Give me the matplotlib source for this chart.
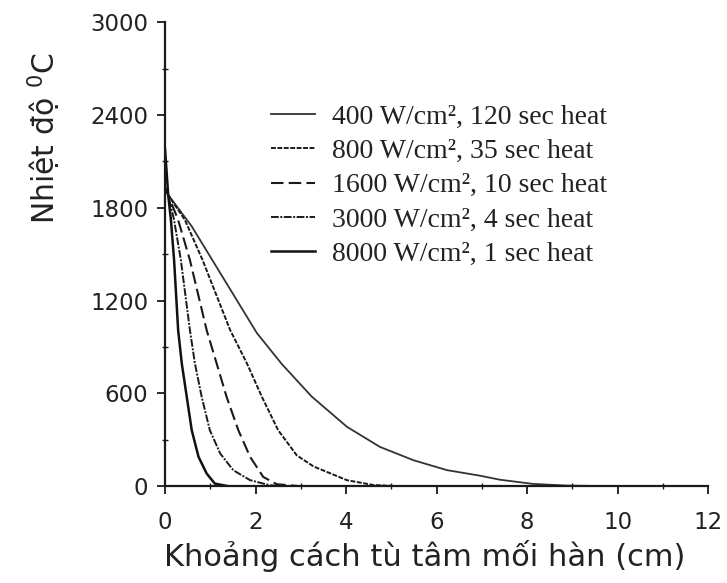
import matplotlib
matplotlib.use('Agg')
import matplotlib.pyplot as plt
from matplotlib.ticker import MultipleLocator

# Temperature profiles (distance in cm, temperature in deg C)
x_400 = [0, 0.07, 0.59, 1.07, 2.03, 2.58, 3.24, 4.02, 4.75, 5.49, 6.23, 6.96, 7.4, 8.13, 8.88, 10.0]
y_400 = [1930, 1883, 1680, 1450, 990, 790, 580, 384, 254, 168, 104, 68, 42, 15, 4, 0]

x_800 = [0, 0.07, 0.44, 0.83, 1.44, 1.81, 2.14, 2.5, 2.91, 3.28, 4.02, 4.6, 5.2]
y_800 = [1930, 1883, 1721, 1462, 1009, 794, 578, 362, 200, 128, 39, 8, 0]

x_1600 = [0, 0.07, 0.29, 0.55, 0.92, 1.14, 1.36, 1.62, 1.88, 2.17, 2.47, 3.0]
y_1600 = [1930, 1883, 1721, 1462, 1009, 794, 578, 362, 190, 60, 13, 0]

x_3000 = [0, 0.07, 0.2, 0.35, 0.55, 0.66, 0.81, 0.99, 1.22, 1.51, 1.88, 2.32, 2.8]
y_3000 = [1930, 1883, 1721, 1462, 1009, 794, 578, 362, 211, 103, 39, 6, 0]

x_8000 = [0, 0.07, 0.13, 0.2, 0.29, 0.37, 0.48, 0.59, 0.74, 0.92, 1.1, 1.4]
y_8000 = [2180, 1883, 1721, 1462, 1009, 794, 578, 362, 190, 82, 17, 0]

labels = ['400 W/cm², 120 sec heat',
          '800 W/cm², 35 sec heat',
          '1600 W/cm², 10 sec heat',
          '3000 W/cm², 4 sec heat',
          '8000 W/cm², 1 sec heat']

fig = plt.figure(figsize=(7.27, 5.83), dpi=100)
ax = fig.add_axes([0.227, 0.166, 0.747, 0.796])

ax.plot(x_400, y_400, color='#333333', lw=1.3, ls='-', label=labels[0])
ax.plot(x_800, y_800, color='#1a1a1a', lw=1.4, ls=(0, (2.5, 0.8)), label=labels[1])
ax.plot(x_1600, y_1600, color='#1a1a1a', lw=1.5, ls=(0, (6, 2.5)), label=labels[2])
ax.plot(x_3000, y_3000, color='#1a1a1a', lw=1.4, ls=(0, (4, 0.8, 1, 0.8)), label=labels[3])
ax.plot(x_8000, y_8000, color='#111111', lw=1.8, ls='-', label=labels[4])

ax.set_xlim(0, 12)
ax.set_ylim(0, 3000)
ax.xaxis.set_major_locator(MultipleLocator(2))
ax.xaxis.set_minor_locator(MultipleLocator(1))
ax.yaxis.set_major_locator(MultipleLocator(600))
ax.yaxis.set_minor_locator(MultipleLocator(300))

for side in ['top', 'right']:
    ax.spines[side].set_visible(False)
for side in ['left', 'bottom']:
    ax.spines[side].set_linewidth(1.6)
    ax.spines[side].set_color('#1a1a1a')

ax.tick_params(which='major', direction='out', length=6, width=1.3, colors='#1a1a1a',
               labelsize=16.5)
ax.tick_params(axis='y', which='major', pad=6)
ax.tick_params(axis='x', which='major', pad=12)
ax.tick_params(which='minor', direction='inout', length=4, width=1.0, colors='#1a1a1a')
for lab in ax.get_xticklabels() + ax.get_yticklabels():
    lab.set_family('DejaVu Sans')
    lab.set_color('#222222')

ax.set_xlabel('Khoảng cách tù tâm mối hàn (cm)', fontsize=22, family='DejaVu Sans',
              color='#222222')
ax.set_ylabel(r'Nhiệt độ $^{0}$C', fontsize=21.5, family='DejaVu Sans',
              color='#222222')
ax.xaxis.set_label_coords(0.479, -0.115)
ax.yaxis.set_label_coords(-0.188, 0.75)

leg = ax.legend(loc='upper left', bbox_to_anchor=(0.195, 0.823), frameon=False,
                prop={'family': 'Liberation Serif', 'size': 20},
                handlelength=1.6, handletextpad=0.6, labelspacing=0.32,
                borderpad=0, borderaxespad=0)
for t in leg.get_texts():
    t.set_color('#222222')

fig.savefig('out.png', dpi=100, facecolor='white')
